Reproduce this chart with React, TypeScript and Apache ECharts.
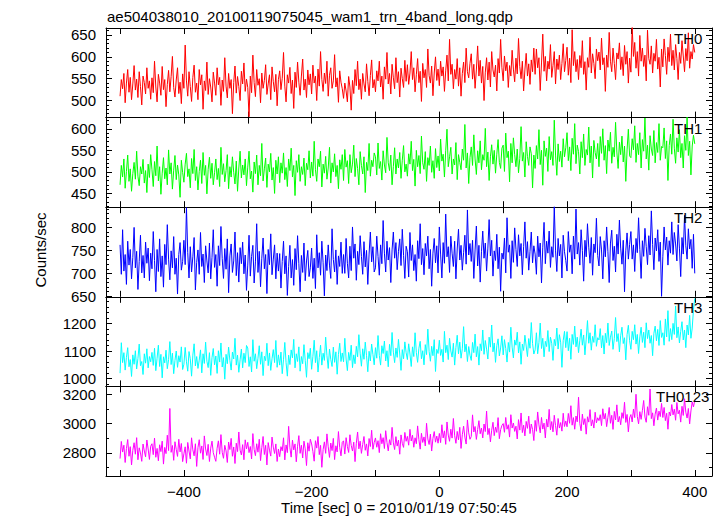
import { useEffect, useRef } from 'react';
import * as echarts from 'echarts';

// Light curves sampled every 2 s starting at t = -500 s
const T_START = -500;
const T_STEP = 2;

const th0: number[] = [
  510, 548, 527, 562, 495, 540, 571, 519, 553, 502, 538, 580, 524, 549, 507, 566, 532, 490, 556, 541, 515, 575, 528, 545, 503,
  552, 518, 590, 531, 497, 560, 540, 512, 578, 525, 548, 486, 537, 569, 520, 555, 601, 530, 508, 547, 575, 516, 542, 493, 561,
  528, 627, 545, 510, 566, 532, 498, 553, 581, 519, 540, 502, 571, 536, 559, 480, 545, 523, 588, 514, 550, 531, 497, 565, 540,
  512, 575, 536, 553, 489, 547, 521, 598, 533, 506, 562, 528, 548, 470, 541, 579, 517, 555, 532, 500, 567, 538, 586, 521, 549,
  530, 463, 556, 518, 604, 541, 509, 571, 535, 550, 495, 563, 528, 546, 582, 514, 538, 559, 502, 577, 543, 520, 560, 488, 548,
  568, 525, 551, 610, 533, 497, 559, 540, 576, 516, 547, 482, 565, 530, 588, 542, 512, 556, 595, 524, 549, 507, 570, 536, 561,
  515, 581, 540, 556, 500, 572, 533, 612, 548, 521, 563, 539, 590, 510, 558, 575, 528, 545, 605, 531, 552, 496, 568, 542, 527,
  505, 540, 522, 497, 555, 531, 478, 546, 516, 571, 534, 590, 525, 549, 503, 562, 538, 520, 584, 544, 511, 557, 593, 529, 548,
  520, 568, 545, 590, 531, 556, 503, 577, 549, 610, 538, 562, 515, 583, 552, 527, 598, 541, 566, 508, 574, 550, 530, 592, 544,
  582, 537, 563, 612, 548, 575, 520, 559, 596, 541, 567, 498, 585, 552, 571, 530, 618, 557, 540, 579, 511, 563, 600, 546, 572,
  534, 590, 556, 577, 521, 568, 604, 545, 640, 560, 583, 527, 571, 549, 596, 533, 575, 510, 562, 588, 541, 620, 566, 552, 585,
  607, 549, 583, 528, 570, 625, 556, 592, 540, 578, 500, 565, 598, 547, 588, 531, 612, 570, 554, 581, 522, 596, 563, 640, 575,
  545, 602, 568, 588, 530, 580, 556, 615, 572, 543, 597, 561, 642, 578, 550, 590, 522, 570, 608, 556, 584, 537, 593, 566, 620,
  560, 618, 575, 598, 523, 586, 652, 567, 601, 545, 590, 572, 628, 553, 580, 612, 538, 595, 571, 604, 548, 585, 630, 566, 592,
  622, 558, 597, 541, 662, 580, 612, 566, 594, 548, 603, 575, 637, 560, 589, 524, 598, 576, 645, 563, 607, 585, 550, 618, 591,
  611, 570, 643, 582, 598, 521, 604, 576, 656, 590, 566, 620, 585, 548, 609, 595, 632, 571, 600, 557, 626, 583, 612, 540, 597,
  565, 668, 601, 633, 574, 612, 556, 649, 590, 620, 578, 604, 545, 661, 596, 583, 625, 563, 608, 590, 640, 572, 599, 531, 618,
  577, 641, 603, 560, 622, 589, 652, 580, 615, 570, 628, 596, 548, 610, 585, 637, 602, 566, 619, 591, 655, 574, 612, 595, 628,
  610,
];

const th1: number[] = [
  470, 515, 488, 530, 462, 501, 539, 478, 507, 455, 496, 522, 483, 548, 490, 468, 512, 495, 529, 474, 503, 452, 518, 487, 540,
  505, 466, 524, 491, 560, 479, 512, 448, 497, 533, 484, 509, 470, 551, 495, 521, 460, 504, 538, 482, 516, 493, 441, 527, 499,
  476, 518, 543, 489, 507, 463, 531, 496, 552, 480, 512, 458, 501, 527, 473, 545, 492, 515, 449, 506, 534, 485, 520, 470, 498,
  530, 482, 508, 466, 557, 494, 519, 477, 503, 540, 461, 512, 488, 535, 499, 472, 525, 455, 509, 548, 486, 516, 493, 530, 468,
  511, 548, 484, 502, 453, 523, 496, 539, 470, 515, 491, 566, 479, 507, 532, 464, 518, 500, 543, 481, 510, 450, 527, 495, 535,
  475, 521, 497, 544, 482, 510, 466, 530, 503, 555, 488, 515, 445, 526, 499, 540, 478, 512, 494, 532, 468, 520, 505, 549, 486,
  523, 490, 571, 505, 478, 530, 512, 548, 465, 518, 497, 536, 483, 509, 557, 474, 521, 500, 542, 489, 515, 461, 528, 506, 540,
  480, 552, 511, 526, 473, 540, 498, 518, 562, 489, 531, 508, 470, 547, 515, 495, 535, 452, 522, 503, 566, 490, 527, 512, 544,
  535, 493, 567, 508, 524, 481, 549, 516, 498, 580, 521, 503, 539, 470, 512, 556, 495, 530, 509, 545, 485, 527, 561, 500, 518,
  490, 542, 518, 571, 503, 529, 467, 550, 512, 538, 496, 583, 521, 506, 547, 478, 533, 515, 560, 499, 526, 485, 554, 510, 537,
  502, 576, 525, 541, 488, 549, 599, 512, 535, 557, 495, 530, 516, 568, 482, 540, 522, 505, 553, 527, 610, 509, 544, 473, 533,
  558, 515, 586, 530, 494, 549, 521, 572, 505, 540, 527, 601, 512, 546, 480, 535, 563, 518, 550, 497, 541, 575, 522, 508, 555,
  562, 501, 590, 533, 548, 477, 566, 521, 579, 540, 512, 553, 498, 531, 605, 525, 545, 488, 570, 536, 515, 558, 542, 463, 539,
  508, 561, 530, 598, 517, 550, 469, 572, 536, 555, 501, 582, 528, 547, 515, 620, 539, 492, 565, 524, 548, 511, 577, 535, 556,
  591, 526, 558, 503, 578, 541, 612, 519, 562, 547, 495, 570, 533, 588, 515, 552, 539, 604, 521, 560, 486, 573, 545, 530, 566,
  512, 582, 543, 600, 527, 561, 496, 574, 548, 592, 520, 557, 535, 615, 546, 508, 569, 540, 583, 523, 560, 478, 551, 599, 537,
  533, 577, 551, 607, 522, 566, 540, 591, 509, 575, 548, 625, 530, 562, 504, 584, 553, 538, 596, 521, 568, 545, 612, 527, 559,
  556, 602, 531, 572, 480, 561, 588, 541, 622, 555, 520, 579, 546, 598, 533, 566, 509, 584, 550, 627, 538, 571, 493, 560, 585,
  565,
];

const th2: number[] = [
  762, 698, 795, 705, 741, 676, 770, 718, 752, 688, 735, 800, 712, 748, 665, 726, 783, 701, 739, 690, 768, 722, 755, 684, 744,
  710, 791, 728, 660, 752, 704, 775, 693, 738, 670, 763, 719, 806, 731, 686, 749, 712, 780, 698, 733, 655, 741, 767, 707, 726,
  772, 719, 843, 745, 690, 758, 703, 736, 778, 664, 724, 751, 698, 789, 715, 742, 680, 760, 727, 701, 766, 688, 735, 795, 713,
  741, 672, 760, 717, 802, 732, 689, 754, 709, 775, 658, 738, 764, 702, 727, 790, 695, 745, 681, 756, 721, 768, 699, 740, 663,
  718, 783, 694, 737, 761, 679, 725, 808, 702, 748, 671, 733, 777, 710, 741, 656, 752, 719, 786, 697, 731, 762, 688, 744, 705,
  743, 668, 726, 770, 699, 738, 652, 715, 761, 690, 730, 674, 754, 708, 782, 721, 660, 739, 702, 766, 684, 727, 750, 693, 712,
  755, 689, 733, 667, 784, 712, 745, 696, 770, 723, 651, 740, 706, 762, 718, 689, 797, 730, 703, 751, 676, 738, 715, 768, 700,
  741, 700, 776, 722, 690, 759, 706, 801, 733, 764, 685, 748, 719, 782, 737, 698, 769, 714, 750, 676, 742, 790, 725, 758, 703,
  712, 781, 737, 696, 762, 721, 815, 744, 703, 770, 729, 756, 680, 751, 790, 733, 767, 708, 748, 775, 717, 796, 739, 689, 759,
  747, 692, 789, 728, 762, 706, 741, 683, 771, 732, 808, 719, 754, 697, 765, 738, 781, 710, 752, 672, 744, 776, 723, 760, 701,
  801, 742, 690, 767, 722, 829, 736, 758, 702, 781, 744, 715, 770, 688, 753, 796, 729, 761, 707, 745, 783, 720, 838, 740, 765,
  726, 772, 689, 751, 803, 716, 761, 681, 747, 792, 733, 766, 705, 755, 817, 738, 772, 694, 749, 728, 785, 710, 757, 661, 744,
  731, 777, 701, 821, 746, 762, 689, 771, 724, 799, 752, 715, 784, 738, 765, 697, 758, 812, 733, 769, 707, 748, 790, 723, 760,
  742, 698, 781, 736, 766, 679, 757, 811, 721, 770, 744, 792, 713, 758, 735, 846, 749, 704, 776, 738, 763, 690, 783, 747, 728,
  705, 791, 746, 762, 699, 781, 731, 840, 742, 767, 718, 795, 750, 683, 772, 736, 808, 757, 722, 778, 696, 764, 745, 820, 739,
  716, 780, 751, 688, 771, 736, 801, 747, 680, 766, 794, 728, 759, 703, 785, 742, 816, 755, 720, 772, 660, 749, 788, 731, 763,
  791, 731, 762, 704, 776, 745, 821, 752, 689, 771, 737, 798, 758, 719, 782, 740, 836, 763, 708, 777, 749, 795, 726, 768, 650,
  736, 801, 751, 779, 718, 771, 744, 812, 741, 789, 764, 727, 806, 755, 693, 778, 742, 826, 760, 731, 797, 753, 774, 711, 785,
  700,
];

const th3: number[] = [
  1020, 1130, 1058, 1094, 1031, 1077, 1112, 1043, 1069, 1008, 1086, 1052, 1101, 1035, 1073, 1125, 1047, 1062, 1015, 1090, 1056, 1108, 1039, 1080, 1061,
  1095, 1048, 1110, 1029, 1074, 1121, 1044, 1088, 1003, 1079, 1057, 1103, 1036, 1069, 1134, 1051, 1092, 1018, 1066, 1100, 1041, 1083, 1060, 1115, 1033,
  1052, 1113, 1061, 1027, 1098, 1072, 1009, 1085, 1126, 1046, 1080, 1037, 1067, 1104, 1021, 1090, 1055, 1132, 1063, 1040, 1094, 1012, 1076, 1109, 1050,
  1082, 1019, 1101, 1060, 1129, 1042, 1076, 998, 1088, 1054, 1114, 1066, 1031, 1096, 1071, 1146, 1049, 1085, 1023, 1068, 1107, 1039, 1092, 1058, 1120,
  1111, 1044, 1079, 1024, 1141, 1063, 1090, 1036, 1074, 1119, 1052, 1097, 1011, 1081, 1065, 1128, 1047, 1093, 1030, 1072, 1105, 1058, 1138, 1041, 1086,
  1049, 1096, 1018, 1070, 1131, 1058, 1009, 1085, 1051, 1104, 1075, 1142, 1039, 1090, 1062, 1115, 1027, 1080, 1054, 1123, 1066, 1005, 1094, 1072, 1110,
  1034, 1081, 1139, 1058, 1101, 1024, 1076, 1121, 1049, 1092, 1066, 1150, 1083, 1037, 1107, 1070, 1044, 1114, 1059, 1097, 1016, 1088, 1128, 1062, 1093,
  1061, 1146, 1071, 1029, 1095, 1066, 1121, 1040, 1086, 1054, 1117, 1079, 1159, 1092, 1045, 1108, 1070, 1132, 1083, 1025, 1099, 1064, 1125, 1088, 1050,
  1112, 1074, 1156, 1084, 1049, 1119, 1091, 1136, 1064, 1101, 1043, 1124, 1083, 1167, 1096, 1058, 1111, 1077, 1142, 1089, 1030, 1105, 1072, 1133, 1094,
  1069, 1126, 1089, 1044, 1115, 1080, 1166, 1094, 1059, 1110, 1135, 1072, 1101, 1050, 1123, 1087, 1179, 1098, 1063, 1117, 1083, 1141, 1026, 1106, 1091,
  1139, 1084, 1106, 1060, 1171, 1094, 1121, 1069, 1146, 1100, 1078, 1128, 1049, 1113, 1157, 1090, 1132, 1074, 1108, 1188, 1097, 1125, 1062, 1116, 1085,
  1066, 1131, 1094, 1161, 1079, 1116, 1049, 1126, 1101, 1176, 1088, 1138, 1107, 1071, 1150, 1114, 1194, 1097, 1129, 1059, 1119, 1144, 1082, 1111, 1155,
  1086, 1141, 1109, 1060, 1131, 1096, 1186, 1114, 1075, 1140, 1121, 1168, 1093, 1133, 1052, 1125, 1102, 1157, 1118, 1080, 1145, 1110, 1203, 1127, 1089,
  1104, 1166, 1090, 1131, 1201, 1109, 1146, 1079, 1135, 1116, 1174, 1098, 1150, 1128, 1066, 1142, 1119, 1183, 1107, 1159, 1132, 1041, 1138, 1171, 1112,
  1170, 1101, 1146, 1070, 1160, 1124, 1190, 1115, 1150, 1094, 1139, 1179, 1121, 1158, 1086, 1143, 1210, 1128, 1166, 1103, 1153, 1131, 1195, 1117, 1148,
  1140, 1181, 1111, 1156, 1089, 1164, 1130, 1201, 1120, 1150, 1172, 1106, 1145, 1221, 1134, 1163, 1097, 1155, 1186, 1127, 1148, 1068, 1159, 1193, 1137,
  1106, 1171, 1141, 1195, 1125, 1160, 1091, 1151, 1186, 1131, 1168, 1112, 1202, 1145, 1176, 1128, 1156, 1083, 1164, 1190, 1137, 1178, 1120, 1210, 1149,
  1166, 1121, 1216, 1151, 1246, 1135, 1181, 1141, 1200, 1160, 1263, 1148, 1187, 1129, 1171, 1206, 1140, 1176, 1112, 1194, 1158, 1229, 1146, 1183, 1250,
  1290,
];

const th0123: number[] = [
  2760, 2878, 2805, 2852, 2733, 2829, 2891, 2776, 2842, 2716, 2817, 2869, 2790, 2904, 2752, 2834, 2799, 2741, 2860, 2812, 2772, 2888, 2826, 2754, 2845,
  2862, 2787, 2901, 2769, 2830, 2745, 2855, 2808, 2880, 2722, 2837, 2794, 2921, 2815, 3105, 2803, 2850, 2748, 2876, 2823, 2775, 2893, 2806, 2864, 2739,
  2793, 2841, 2728, 2871, 2812, 2758, 2903, 2820, 2779, 2862, 2706, 2835, 2890, 2797, 2847, 2754, 2916, 2826, 2781, 2858, 2740, 2832, 2880, 2801, 2769,
  2741, 2831, 2882, 2790, 2925, 2803, 2762, 2851, 2813, 2733, 2874, 2822, 2899, 2776, 2840, 2726, 2866, 2808, 2943, 2818, 2785, 2856, 2752, 2889, 2827,
  2872, 2801, 2843, 2757, 2932, 2823, 2780, 2862, 2804, 2893, 2746, 2835, 2912, 2788, 2851, 2716, 2870, 2818, 2777, 2908, 2839, 2795, 2861, 2740, 2826,
  2773, 2842, 2813, 2903, 2751, 2854, 2801, 2982, 2834, 2770, 2887, 2820, 2861, 2738, 2845, 2918, 2796, 2852, 2764, 2880, 2827, 2712, 2869, 2811, 2893,
  2861, 2809, 2742, 2883, 2832, 2912, 2787, 2851, 2700, 2822, 2875, 2796, 2930, 2841, 2768, 2867, 2815, 2899, 2753, 2848, 2806, 2946, 2836, 2779, 2872,
  2882, 2791, 2904, 2843, 2802, 2924, 2851, 2812, 2873, 2739, 2866, 2943, 2827, 2880, 2796, 2858, 2912, 2817, 2861, 2778, 2898, 2843, 2955, 2824, 2871,
  2902, 2838, 2883, 2801, 2931, 2862, 2904, 2829, 2952, 2871, 2813, 2890, 2853, 2975, 2868, 2822, 2911, 2846, 2887, 2790, 2923, 2865, 2837, 2940, 2879,
  2913, 2852, 2961, 2881, 2921, 2838, 2903, 2862, 2985, 2890, 2825, 2934, 2871, 2909, 2847, 3003, 2895, 2857, 2928, 2812, 2899, 2946, 2873, 2915, 2866,
  2933, 2870, 2993, 2902, 2951, 2858, 3012, 2922, 2879, 2962, 2901, 3036, 2917, 2865, 2947, 2889, 2975, 2830, 2924, 2983, 2908, 2860, 3026, 2937, 2893,
  2912, 3061, 2943, 2981, 2892, 2960, 3021, 2931, 2970, 2902, 2998, 2946, 3087, 2925, 2968, 2875, 2955, 3010, 2918, 2977, 2940, 3042, 2897, 2959, 2988,
  3001, 2941, 3043, 2962, 2993, 2908, 3062, 2970, 3005, 2947, 2983, 2895, 3028, 2956, 3074, 2939, 2990, 2916, 3016, 2968, 3052, 2932, 2998, 2961, 2884,
  3023, 2948, 3081, 2992, 2937, 3043, 2963, 3004, 2902, 3031, 2977, 3099, 2958, 3015, 2944, 3058, 2987, 2921, 3036, 2970, 3008, 2949, 3072, 2981, 3019,
  2979, 3071, 3003, 3124, 2990, 3042, 2962, 3053, 3013, 3183, 3001, 2951, 3066, 2994, 3035, 2928, 3048, 3011, 3097, 2985, 3027, 2970, 3079, 3006, 3041,
  3021, 3062, 2987, 3103, 3032, 3071, 2980, 3044, 3112, 3003, 3058, 2961, 3085, 3026, 3130, 3012, 3050, 2993, 3076, 3037, 3148, 3009, 3064, 2944, 3040,
  3063, 3012, 3101, 3042, 3203, 3051, 2999, 3083, 3030, 3092, 3160, 3046, 3010, 3117, 3058, 3239, 3035, 3075, 2986, 3066, 3108, 3025, 3087, 3049, 3140,
  3043, 3112, 3021, 3072, 2962, 3081, 3053, 3132, 3061, 3100, 3024, 3146, 3068, 3093, 3011, 3120, 3057, 3172, 3079, 3039, 3105, 2999, 3088, 3150, 3116,
  3160,
];

const xTickValues = [-500, -400, -300, -200, -100, 0, 100, 200, 300, 400];
const xLabelValues = [-400, -200, 0, 200, 400];

const th0Ticks = [500, 550, 600, 650];
const th1Ticks = [450, 500, 550, 600];
const th2Ticks = [650, 700, 750, 800];
const th3Ticks = [1000, 1100, 1200];
const th0123Ticks = [2800, 3000, 3200];

const TITLE = 'ae504038010_20100119075045_wam1_trn_4band_long.qdp';
const X_NAME = 'Time [sec] 0 = 2010/01/19 07:50:45';
const Y_NAME = 'Counts/sec';

function minorRange(min: number, max: number, step: number, majors: number[]) {
  const out: number[] = [];
  const start = Math.ceil(min / step) * step;
  for (let v = start; v <= max; v += step) {
    if (!majors.includes(v)) out.push(v);
  }
  return out;
}

const panels = [
  { name: 'TH0', color: '#ff0000', values: th0, min: 461, max: 666, ticks: th0Ticks, minorStep: 10, labelX: 674 },
  { name: 'TH1', color: '#00ff00', values: th1, min: 418, max: 626, ticks: th1Ticks, minorStep: 10, labelX: 674 },
  { name: 'TH2', color: '#0000ff', values: th2, min: 649, max: 844, ticks: th2Ticks, minorStep: 10, labelX: 674 },
  { name: 'TH3', color: '#00ffff', values: th3, min: 972, max: 1296, ticks: th3Ticks, minorStep: 20, labelX: 674 },
  { name: 'TH0123', color: '#ff00ff', values: th0123, min: 2640, max: 3257, ticks: th0123Ticks, minorStep: 100, labelX: 656 },
];

const FONT = '"Liberation Sans", Arial, Helvetica, sans-serif';
const TOP = 28;
const BOTTOM = 476;
const PH = (BOTTOM - TOP) / panels.length;

export default function App() {
  const ref = useRef<HTMLDivElement>(null);
  useEffect(() => {
    if (!ref.current) return;
    const chart = echarts.init(ref.current, undefined, { renderer: 'svg' });
    const grids: any[] = [];
    const xAxes: any[] = [];
    const yAxes: any[] = [];
    const series: any[] = [];
    const graphics: any[] = [];
    const line = { show: true, onZero: false, lineStyle: { color: '#000', width: 1 } };
    panels.forEach((p, i) => {
      grids.push({ left: 106, width: 606, top: TOP + i * PH, height: PH });
      const last = i === panels.length - 1;
      ['bottom', 'top'].forEach((pos) => {
        xAxes.push({
          type: 'value', gridIndex: i, position: pos, min: -522, max: 427,
          axisLine: line,
          axisTick: { show: true, inside: true, length: 6, customValues: xTickValues, lineStyle: { color: '#000' } },
          axisLabel: {
            show: last && pos === 'bottom', customValues: xLabelValues, margin: 8,
            fontFamily: FONT, fontSize: 15, color: '#000',
            formatter: (v: number) => String(v).replace('-', '\u2212'),
          },
          splitLine: { show: false },
        });
      });
      const minors = minorRange(p.min, p.max, p.minorStep, p.ticks);
      ['left', 'right'].forEach((pos) => {
        yAxes.push({
          type: 'value', gridIndex: i, position: pos, min: p.min, max: p.max,
          axisLine: line,
          axisTick: { show: true, inside: true, length: 6, customValues: p.ticks, lineStyle: { color: '#000' } },
          axisLabel: {
            show: pos === 'left', customValues: p.ticks, margin: 10,
            fontFamily: FONT, fontSize: 15, color: '#000',
            formatter: (v: number) => String(v),
          },
          splitLine: { show: false },
        });
        yAxes.push({
          type: 'value', gridIndex: i, position: pos, min: p.min, max: p.max,
          axisLine: { show: false, onZero: false },
          axisTick: { show: true, inside: true, length: 3, customValues: minors, lineStyle: { color: '#000' } },
          axisLabel: { show: false },
          splitLine: { show: false },
        });
      });
      series.push({
        type: 'line', name: p.name, xAxisIndex: 2 * i, yAxisIndex: 4 * i,
        data: p.values.map((v, k) => [T_START + T_STEP * k, v]),
        showSymbol: false, symbol: 'none', clip: true,
        lineStyle: { color: p.color, width: 1 },
        itemStyle: { color: p.color },
      });
      graphics.push({
        type: 'text', x: p.labelX, y: TOP + i * PH + 10.5, z: 100,
        style: { text: p.name, font: `15px ${FONT}`, fill: '#000', textAlign: 'left', textVerticalAlign: 'middle' },
      });
    });
    graphics.push({
      type: 'text', x: 107, y: 16,
      style: { text: TITLE, font: `15px ${FONT}`, fill: '#000', textAlign: 'left', textVerticalAlign: 'middle' },
    });
    graphics.push({
      type: 'text', x: 399, y: 507,
      style: { text: X_NAME, font: `15px ${FONT}`, fill: '#000', textAlign: 'center', textVerticalAlign: 'middle' },
    });
    graphics.push({
      type: 'text', x: 40, y: 250, rotation: Math.PI / 2,
      style: { text: Y_NAME, font: `15px ${FONT}`, fill: '#000', textAlign: 'center', textVerticalAlign: 'middle' },
    });
    chart.setOption({
      animation: false,
      backgroundColor: '#fff',
      grid: grids,
      xAxis: xAxes,
      yAxis: yAxes,
      series,
      graphic: graphics,
    });
    return () => chart.dispose();
  }, []);
  return <div ref={ref} style={{ position: 'fixed', left: 0, top: 0, width: 721, height: 516 }} />;
}
